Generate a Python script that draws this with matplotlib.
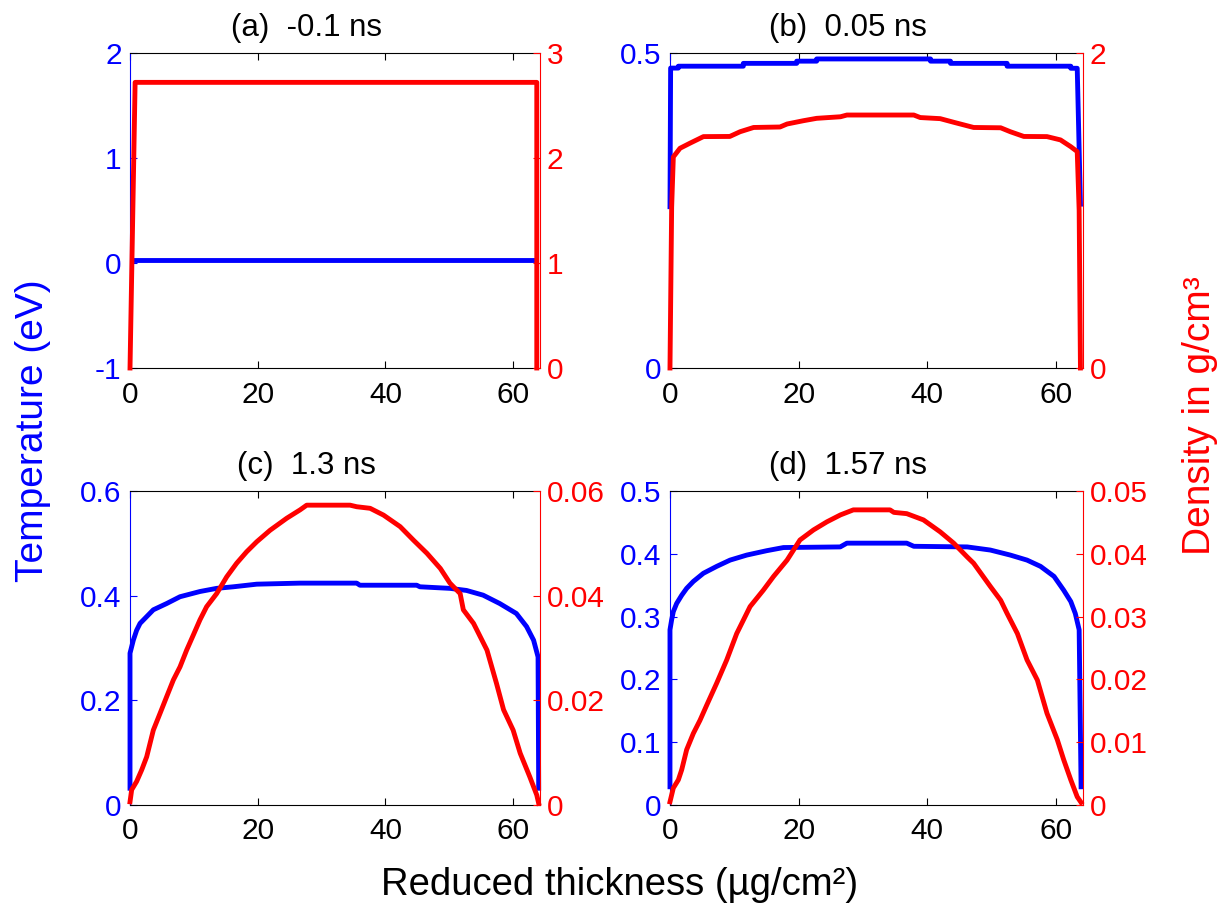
import matplotlib
matplotlib.use('Agg')
import matplotlib.pyplot as plt

plt.rcParams['font.family'] = ['Liberation Sans', 'DejaVu Sans']

# (a) -0.1 ns
a_temp_x = [0.4, 63.4]
a_temp = [0.03, 0.03]
a_dens_x = [0.0, 0.8, 63.7, 63.7]
a_dens = [0.0, 2.72, 2.72, 0.0]

# (b) 0.05 ns
b_temp_x = [0.0, 0.1, 1.3, 1.3, 11.4, 11.4, 19.7, 19.7, 22.8, 22.8,
            40.5, 40.5, 43.6, 43.6, 52.4, 52.4, 62.3, 62.3, 63.3, 63.8]
b_temp = [0.256, 0.476, 0.476, 0.479, 0.479, 0.4835, 0.4835, 0.487, 0.487, 0.4905,
          0.4905, 0.487, 0.487, 0.4835, 0.4835, 0.479, 0.479, 0.4757, 0.4757, 0.26]
b_dens_x = [0.0, 0.26, 0.52, 1.56, 3.1, 5.2, 9.3, 10.9, 13.0, 17.1,
            18.2, 20.75, 22.8, 26.5, 27.5, 37.9, 38.9, 42.0, 44.1, 47.2,
            51.4, 52.9, 55.0, 58.6, 60.7, 62.3, 63.3, 63.6, 63.8]
b_dens = [0.0, 1.02, 1.34, 1.395, 1.427, 1.469, 1.47, 1.50, 1.527, 1.53,
          1.549, 1.57, 1.585, 1.595, 1.606, 1.606, 1.59, 1.583, 1.56, 1.527,
          1.525, 1.50, 1.47, 1.469, 1.448, 1.405, 1.374, 1.0, 0.0]

# (c) 1.3 ns
c_temp_x = [0.0, 0.0, 0.52, 1.04, 1.57, 2.61, 3.65, 5.74, 7.83, 10.96,
            13.57, 16.18, 19.84, 26.6, 35.5, 36.0, 44.9, 45.4, 50.1, 52.7,
            55.3, 57.9, 60.5, 62.1, 63.2, 63.9, 64.0]
c_temp = [0.032, 0.29, 0.315, 0.334, 0.347, 0.36, 0.373, 0.385, 0.398, 0.408,
          0.414, 0.417, 0.422, 0.424, 0.424, 0.420, 0.420, 0.417, 0.414, 0.41,
          0.401, 0.385, 0.366, 0.341, 0.315, 0.283, 0.032]
c_dens_x = [0.0, 0.26, 1.04, 1.83, 2.61, 3.65, 4.7, 5.74, 6.79, 7.83,
            8.87, 9.92, 10.96, 12.0, 13.57, 15.14, 16.7, 18.27, 19.84, 21.93,
            24.54, 26.63, 27.67, 34.46, 35.5, 37.6, 39.7, 42.3, 44.4, 46.5,
            48.6, 50.1, 51.7, 52.2, 53.8, 55.9, 57.4, 58.5, 60.0, 61.1,
            62.6, 63.7, 64.0]
c_dens = [0.0006, 0.0029, 0.0045, 0.0067, 0.0092, 0.0143, 0.0175, 0.0207, 0.0239, 0.0264,
          0.0296, 0.0325, 0.0354, 0.0379, 0.0404, 0.0436, 0.0462, 0.0484, 0.0503, 0.0525,
          0.0548, 0.0564, 0.0573, 0.0573, 0.057, 0.0567, 0.0554, 0.0532, 0.0506, 0.0481,
          0.0452, 0.0424, 0.0404, 0.0373, 0.0347, 0.0296, 0.0232, 0.0182, 0.0143, 0.0099,
          0.0054, 0.0019, 0.0003]

# (d) 1.57 ns
d_temp_x = [0.0, 0.0, 0.26, 0.52, 1.04, 1.82, 2.59, 3.63, 5.19, 7.26,
            9.34, 11.93, 15.04, 17.64, 26.46, 27.5, 36.8, 37.9, 46.2, 49.8,
            52.9, 55.5, 57.6, 59.7, 61.2, 62.3, 63.0, 63.6, 63.9]
d_temp = [0.029, 0.279, 0.295, 0.308, 0.321, 0.334, 0.345, 0.356, 0.369, 0.38,
          0.39, 0.398, 0.405, 0.41, 0.411, 0.417, 0.417, 0.412, 0.411, 0.406,
          0.398, 0.39, 0.38, 0.364, 0.342, 0.324, 0.305, 0.279, 0.029]
d_dens_x = [0.0, 0.52, 1.3, 1.82, 2.59, 3.63, 4.67, 5.71, 7.26, 8.82,
            10.37, 12.45, 14.5, 16.1, 18.2, 20.2, 22.3, 24.4, 26.5, 28.5,
            34.2, 34.8, 36.8, 39.4, 42.0, 44.1, 46.2, 47.2, 49.8, 51.4,
            52.4, 54.0, 55.5, 57.1, 58.6, 60.2, 61.2, 62.3, 63.3, 63.9]
d_dens = [0.0005, 0.0027, 0.004, 0.0056, 0.0088, 0.0114, 0.0135, 0.0159, 0.0194, 0.0231,
          0.0273, 0.0316, 0.0342, 0.0364, 0.039, 0.0422, 0.0438, 0.0451, 0.0462, 0.047,
          0.047, 0.0466, 0.0464, 0.0454, 0.0435, 0.0417, 0.0395, 0.0385, 0.0348, 0.0326,
          0.0305, 0.0273, 0.0231, 0.0199, 0.0146, 0.0104, 0.0072, 0.004, 0.0013, 0.0004]

titles = ['(a)  -0.1 ns', '(b)  0.05 ns', '(c)  1.3 ns', '(d)  1.57 ns']
x_ticks = [0, 20, 40, 60]
temp_ticks = [[-1, 0, 1, 2], [0, 0.5], [0, 0.2, 0.4, 0.6], [0, 0.1, 0.2, 0.3, 0.4, 0.5]]
temp_labels = [['-1', '0', '1', '2'], ['0', '0.5'], ['0', '0.2', '0.4', '0.6'],
               ['0', '0.1', '0.2', '0.3', '0.4', '0.5']]
dens_ticks = [[0, 1, 2, 3], [0, 2], [0, 0.02, 0.04, 0.06], [0, 0.01, 0.02, 0.03, 0.04, 0.05]]
dens_labels = [['0', '1', '2', '3'], ['0', '2'], ['0', '0.02', '0.04', '0.06'],
               ['0', '0.01', '0.02', '0.03', '0.04', '0.05']]

temps = [(a_temp_x, a_temp), (b_temp_x, b_temp), (c_temp_x, c_temp), (d_temp_x, d_temp)]
denss = [(a_dens_x, a_dens), (b_dens_x, b_dens), (c_dens_x, c_dens), (d_dens_x, d_dens)]

fig = plt.figure(figsize=(12.3, 9.1), dpi=100)

# axes boxes (left, bottom, width, height)
boxes = [[0.1057, 0.5956, 0.3333, 0.3462],
         [0.5447, 0.5956, 0.3358, 0.3462],
         [0.1057, 0.1154, 0.3333, 0.3450],
         [0.5447, 0.1154, 0.3358, 0.3450]]

for i in range(4):
    ax = fig.add_axes(boxes[i])
    ax.plot(temps[i][0], temps[i][1], color='blue', lw=3.5, clip_on=False)
    ax.set_xlim(0, 64.2)
    ax.set_ylim(temp_ticks[i][0], temp_ticks[i][-1])
    ax.set_xticks(x_ticks)
    ax.tick_params(axis='x', direction='in', top=True, labelsize=21.5, pad=9,
                   length=5, width=0.8)
    ax.set_yticks(temp_ticks[i])
    ax.set_yticklabels(temp_labels[i])
    ax.tick_params(axis='y', direction='in', colors='blue', labelsize=21.5, pad=6,
                   length=5, width=0.8)
    ax.spines['left'].set_color('blue')
    ax.spines['right'].set_visible(False)
    ax.set_title(titles[i], fontsize=22.5, x=0.43, pad=12)

    ax2 = ax.twinx()
    ax2.plot(denss[i][0], denss[i][1], color='red', lw=3.5, clip_on=False)
    ax2.set_xlim(0, 64.2)
    ax2.set_ylim(dens_ticks[i][0], dens_ticks[i][-1])
    ax2.set_yticks(dens_ticks[i])
    ax2.set_yticklabels(dens_labels[i])
    ax2.tick_params(axis='y', direction='in', colors='red', labelsize=21.5, pad=5,
                    length=5, width=0.8)
    ax2.spines['right'].set_color('red')
    for s in ['left', 'top', 'bottom']:
        ax2.spines[s].set_visible(False)

fig.text(0.027, 0.527, 'Temperature (eV)', rotation=90, color='blue', fontsize=28,
         ha='center', va='center')
fig.text(0.9756, 0.543, 'Density in g/cm³', rotation=90, color='red', fontsize=28,
         ha='center', va='center')
fig.text(0.504, 0.0275, 'Reduced thickness (µg/cm²)', fontsize=27.5,
         ha='center', va='center')

fig.savefig('out.png', dpi=100)
